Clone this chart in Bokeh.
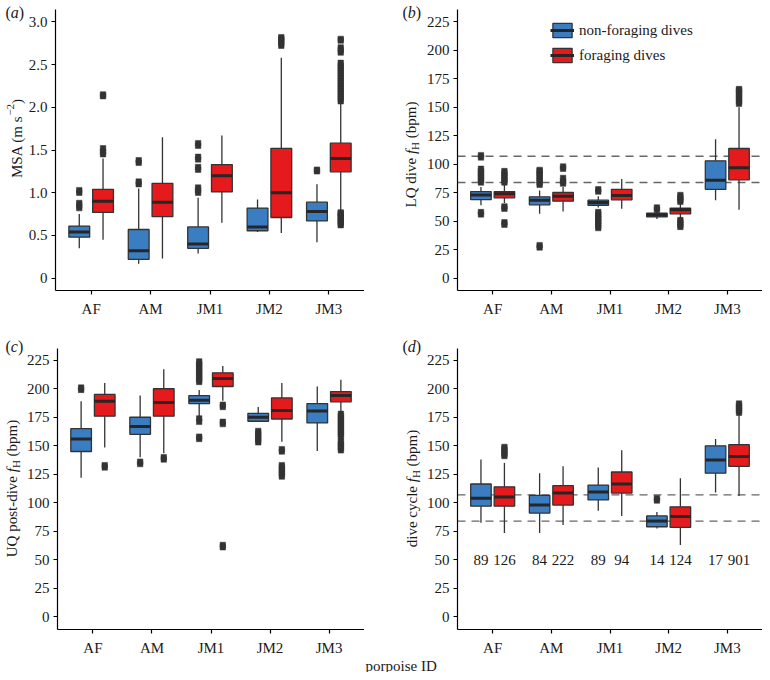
import math
from bokeh.plotting import figure
from bokeh.models import FixedTicker, Legend, LegendItem, Range1d, LinearAxis
from bokeh.layouts import row, column
from bokeh.core.properties import value
from bokeh.embed import file_html
from bokeh.resources import INLINE

# ---------------- data ----------------
categories = ["AF", "AM", "JM1", "JM2", "JM3"]
group_names = ["non-foraging dives", "foraging dives"]

# each row: lower whisker, Q1, median, Q3, upper whisker
msa_nonforaging = [
    [0.35, 0.48, 0.54, 0.61, 0.75],
    [0.17, 0.22, 0.32, 0.57, 1.05],
    [0.29, 0.35, 0.40, 0.60, 0.94],
    [0.54, 0.555, 0.60, 0.82, 0.92],
    [0.42, 0.67, 0.78, 0.89, 1.10],
]
msa_nonforaging_outliers = [
    [0.82, 0.85, 0.88, 1.00, 1.03],
    [1.10, 1.13, 1.35, 1.38],
    [1.00, 1.03, 1.06, 1.27, 1.30, 1.39, 1.42, 1.55, 1.58],
    [],
    [1.25, 1.27],
]
msa_foraging = [
    [0.45, 0.77, 0.90, 1.04, 1.40],
    [0.23, 0.72, 0.89, 1.11, 1.65],
    [0.65, 1.01, 1.20, 1.33, 1.67],
    [0.53, 0.71, 1.00, 1.52, 2.58],
    [0.79, 1.245, 1.40, 1.58, 2.05],
]
msa_foraging_outliers = [
    [1.45, 1.48, 1.52, 2.13, 2.15],
    [],
    [],
    [2.72, 2.75, 2.78, 2.80, 2.82],
    [0.62, 0.64, 0.66, 0.68, 0.70, 0.72, 0.74, 0.76, 0.77,
     2.07, 2.10, 2.13, 2.16, 2.19, 2.22, 2.25, 2.28, 2.31, 2.34, 2.37, 2.40,
     2.43, 2.46, 2.49, 2.52, 2.64, 2.67, 2.70, 2.78, 2.80],
]

lq_nonforaging = [
    [64, 69, 73, 76, 80],
    [56.5, 64.4, 68.5, 71.4, 77],
    [62, 64, 66.4, 68.5, 72],
    [52, 53.8, 55.5, 57, 58],
    [68.5, 78, 86, 103, 122],
]
lq_nonforaging_outliers = [
    [56, 58, 84, 86, 88, 90, 92, 94, 96, 106, 108],
    [27, 29, 82, 84, 86, 88, 90, 92, 94, 95],
    [44, 46, 48, 50, 52, 54, 56, 58, 76, 78],
    [60, 62],
    [],
]
lq_foraging = [
    [66, 70.5, 74, 76, 82],
    [58.5, 67.6, 72, 75.2, 80],
    [61, 68.8, 72.5, 78, 87],
    [52, 56.5, 60, 61.4, 66],
    [60, 86.3, 97, 113.8, 150],
]
lq_foraging_outliers = [
    [47, 49, 61, 63, 84, 86, 88, 90, 92, 94],
    [83, 85, 88, 96, 98],
    [],
    [45, 47, 49, 51, 67, 69, 71, 73],
    [153, 155, 157, 159, 161, 163, 165, 166],
]

uq_nonforaging = [
    [122, 145, 156, 165, 189],
    [140, 160, 167, 175, 194],
    [176, 187, 190, 194, 199],
    [171, 171.5, 175, 178.5, 184],
    [145.5, 170, 180.5, 187, 202],
]
uq_nonforaging_outliers = [
    [199, 201],
    [134, 136],
    [156, 158, 171, 174, 206, 208, 210, 212, 214, 216, 218, 220, 222, 224],
    [153, 155, 157, 159, 161, 163],
    [],
]
uq_foraging = [
    [148.5, 176, 189, 195, 205],
    [143.5, 176, 188, 200, 217],
    [189.5, 202, 209, 214, 220],
    [153.5, 173.5, 181, 192, 205],
    [179, 188.5, 194, 197.5, 208],
]
uq_foraging_outliers = [
    [131, 133],
    [138, 140],
    [61, 63, 169, 171, 184, 186],
    [123, 125, 127, 129, 131, 133, 145, 147],
    [146, 148, 150, 152, 154, 158, 160, 162, 164, 166, 168, 170, 172, 174, 176, 178],
]

cycle_nonforaging = [
    [82.5, 97, 104, 116.5, 138],
    [73.5, 91, 98, 106.5, 126],
    [93, 102.5, 109.5, 115.5, 131],
    [77.5, 79, 84, 88.5, 92],
    [109, 126, 137.5, 150, 156],
]
cycle_nonforaging_outliers = [[], [], [], [102, 104], []]
cycle_foraging = [
    [73.5, 97, 105, 114, 135],
    [80.5, 98, 108.5, 115, 132],
    [88.5, 108.5, 116.5, 127, 146],
    [63, 78.5, 88, 96.5, 121.5],
    [106, 132, 140.5, 151, 177],
]
cycle_foraging_outliers = [[141, 143, 145, 147, 149], [], [], [], [179, 181, 183, 185, 187]]

cycle_n_nonforaging = [89, 84, 89, 14, 17]
cycle_n_foraging = [126, 222, 94, 124, 901]
n_label_level = 50

reference_fh = [107, 84]

msa_ticks = [0, 0.5, 1.0, 1.5, 2.0, 2.5, 3.0]
msa_tick_labels = ["0", "0.5", "1.0", "1.5", "2.0", "2.5", "3.0"]
fh_ticks = [0, 25, 50, 75, 100, 125, 150, 175, 200, 225]
fh_tick_labels = ["0", "25", "50", "75", "100", "125", "150", "175", "200", "225"]

# ---------------- style ----------------
BLUE = "#3A7DC1"
RED = "#E41A1C"
DARK = "#333333"
TXT = "#1a1a1a"
FONT = "Liberation Serif"
OFFSET = 0.2
BOX_W = 0.35

TIMES = {' ': 250, '(': 333, ')': 333, '-': 333, '.': 250, 'A': 722, 'D': 722, 'H': 722,
         'I': 333, 'J': 389, 'L': 611, 'M': 889, 'Q': 722, 'S': 556, 'U': 722, 'a': 444,
         'b': 500, 'c': 444, 'd': 500, 'e': 444, 'f': 333, 'g': 500, 'i': 278, 'l': 278,
         'm': 778, 'n': 500, 'o': 500, 'p': 500, 'r': 333, 's': 389, 't': 278, 'v': 500,
         'y': 500, '\u2212': 564}
TIMES_IT = {'f': 278, 'a': 500, 'b': 500, 'c': 444, 'd': 500}


def text_width(s, size, italic=False):
    tab = TIMES_IT if italic else TIMES
    return sum(tab.get(ch, TIMES.get(ch, 500)) for ch in s) * size / 1000.0


# canvas size, inner panel box (left/top offsets, size), page origin, inner data ranges
GEOM = {
    "a": dict(w=364, h=325, left=55, top=9, fw=309, fh=281, ox=8, oy=8, xr=(0.4, 5.6), yr=(-0.144, 3.144)),
    "b": dict(w=398, h=325, left=93, top=9, fw=305, fh=281, ox=372, oy=8, xr=(0.4, 5.6), yr=(-10.8, 235.8)),
    "c": dict(w=364, h=347, left=57, top=23, fw=307, fh=281, ox=8, oy=333, xr=(0.4, 5.6), yr=(-11.1, 235.3)),
    "d": dict(w=398, h=347, left=93, top=23, fw=305, fh=281, ox=372, oy=333, xr=(0.4, 5.6), yr=(-11.1, 235.3)),
}


def to_data(g, X, Y):
    x0 = g["ox"] + g["left"]
    y1 = g["oy"] + g["top"] + g["fh"]
    xr, yr = g["xr"], g["yr"]
    x = xr[0] + (X - x0) * (xr[1] - xr[0]) / g["fw"]
    y = yr[0] + (y1 - Y) * (yr[1] - yr[0]) / g["fh"]
    return x, y


def make_fig(g, ticks, tick_labels):
    xs0, ys1 = to_data(g, g["ox"], g["oy"])
    xs1, ys0 = to_data(g, g["ox"] + g["w"], g["oy"] + g["h"])
    p = figure(width=g["w"], height=g["h"], x_range=Range1d(xs0, xs1), y_range=Range1d(ys0, ys1),
               min_border=0, min_border_left=0, min_border_right=0, min_border_top=0, min_border_bottom=0,
               x_axis_type=None, y_axis_type=None,
               output_backend="svg", toolbar_location=None)
    p.outline_line_color = None
    p.background_fill_color = "white"
    p.border_fill_color = "white"
    xpos = list(range(1, len(categories) + 1))
    xax = LinearAxis(fixed_location=g["yr"][0], bounds=g["xr"], ticker=FixedTicker(ticks=xpos),
                     major_label_overrides={i: c for i, c in zip(xpos, categories)})
    yax = LinearAxis(fixed_location=g["xr"][0], bounds=g["yr"], ticker=FixedTicker(ticks=ticks),
                     major_label_overrides={t: l for t, l in zip(ticks, tick_labels)})
    for ax in (xax, yax):
        ax.axis_line_color = "black"
        ax.axis_line_width = 1.2
        ax.major_tick_line_color = "black"
        ax.major_tick_line_width = 1.2
        ax.major_tick_out = 4
        ax.major_tick_in = 0
        ax.minor_tick_line_color = None
        ax.major_label_text_font = FONT
        ax.major_label_text_font_size = "15px"
        ax.major_label_text_color = TXT
    xax.major_label_standoff = 6
    yax.major_label_standoff = 4
    p.add_layout(xax, "below")
    p.add_layout(yax, "left")
    return p


def draw_group(p, stats, outliers, offset, color):
    xs = [i + 1 + offset for i in range(len(categories))]
    lw = [s[0] for s in stats]
    q1 = [s[1] for s in stats]
    med = [s[2] for s in stats]
    q3 = [s[3] for s in stats]
    uw = [s[4] for s in stats]
    p.segment(x0=xs, x1=xs, y0=q3, y1=uw, line_color=DARK, line_width=1.3)
    p.segment(x0=xs, x1=xs, y0=q1, y1=lw, line_color=DARK, line_width=1.3)
    ox, oy = [], []
    for x, outs in zip(xs, outliers):
        for v in outs:
            ox.append(x)
            oy.append(v)
    if ox:
        p.scatter(x=ox, y=oy, marker="square", size=5.5, fill_color=DARK, line_color=DARK, line_width=0.5)
    box = p.vbar(x=xs, width=BOX_W, bottom=q1, top=q3, fill_color=color, line_color=DARK, line_width=1.3)
    medr = p.segment(x0=[x - BOX_W / 2 for x in xs], x1=[x + BOX_W / 2 for x in xs], y0=med, y1=med,
                     line_color="#262626", line_width=3)
    return box, medr, xs


def add_text(p, g, X, Y, text, size=15, italic=False, angle=0.0, align="left", baseline="alphabetic"):
    x, y = to_data(g, X, Y)
    p.text(x=[x], y=[y], text=[text], angle=angle, text_align=align, text_baseline=baseline,
           text_font=value(FONT), text_font_size=f"{size}px",
           text_font_style="italic" if italic else "normal", text_color=TXT)


def add_ytitle(p, g, X, Yc, pieces):
    total = sum(text_width(t, s, it) for t, s, it, sh in pieces)
    Y = Yc + total / 2
    for t, s, it, sh in pieces:
        lead = len(t) - len(t.lstrip(' '))
        txt = t.strip()
        if txt:
            add_text(p, g, X - sh, Y - lead * 250 * s / 1000.0, txt, size=s, italic=it, angle=math.pi / 2)
        Y -= text_width(t, s, it)


def add_tag(p, g, X, Y, letter):
    for t, it in (("(", False), (letter, True), (")", False)):
        add_text(p, g, X, Y, t, size=16, italic=it)
        X += text_width(t, 16, it)


def add_reference_lines(p, g):
    n = len(reference_fh)
    p.segment(x0=[g["xr"][0]] * n, x1=[g["xr"][1]] * n, y0=reference_fh, y1=reference_fh,
              line_color="#666666", line_width=1.3, line_dash="8 6")


# ---------------- panels ----------------
ga, gb, gc, gd = GEOM["a"], GEOM["b"], GEOM["c"], GEOM["d"]

pa = make_fig(ga, msa_ticks, msa_tick_labels)
draw_group(pa, msa_nonforaging, msa_nonforaging_outliers, -OFFSET, BLUE)
draw_group(pa, msa_foraging, msa_foraging_outliers, OFFSET, RED)
add_ytitle(pa, ga, 24, 146, [("MSA (m s", 15, False, 0), ("\u22122", 11, False, 6), (")", 15, False, 0)])
add_tag(pa, ga, 13, 19.5, "a")

pb = make_fig(gb, fh_ticks, fh_tick_labels)
add_reference_lines(pb, gb)
box_nf, med_nf, _ = draw_group(pb, lq_nonforaging, lq_nonforaging_outliers, -OFFSET, BLUE)
box_f, med_f, _ = draw_group(pb, lq_foraging, lq_foraging_outliers, OFFSET, RED)
add_ytitle(pb, gb, 418, 162, [("LQ dive ", 15, False, 0), ("f", 15, True, 0), ("H", 11, False, -4),
                              (" (bpm)", 15, False, 0)])
add_tag(pb, gb, 410, 19.5, "b")
legend = Legend(items=[LegendItem(label=group_names[0], renderers=[box_nf, med_nf]),
                       LegendItem(label=group_names[1], renderers=[box_f, med_f])],
                location=(186, 261), orientation="vertical", glyph_width=24, glyph_height=18,
                label_height=18, label_standoff=5, spacing=7, padding=0, margin=0,
                border_line_color=None, background_fill_alpha=0,
                label_text_font=FONT, label_text_font_size="15px", label_text_color=TXT)
pb.add_layout(legend)

pc = make_fig(gc, fh_ticks, fh_tick_labels)
draw_group(pc, uq_nonforaging, uq_nonforaging_outliers, -OFFSET, BLUE)
draw_group(pc, uq_foraging, uq_foraging_outliers, OFFSET, RED)
add_ytitle(pc, gc, 19, 496, [("UQ post-dive ", 15, False, 0), ("f", 15, True, 0), ("H", 11, False, -4),
                             (" (bpm)", 15, False, 0)])
add_tag(pc, gc, 13, 353.5, "c")

pd = make_fig(gd, fh_ticks, fh_tick_labels)
add_reference_lines(pd, gd)
_, _, xs_nf = draw_group(pd, cycle_nonforaging, cycle_nonforaging_outliers, -OFFSET, BLUE)
_, _, xs_f = draw_group(pd, cycle_foraging, cycle_foraging_outliers, OFFSET, RED)
pd.text(x=xs_nf + xs_f, y=[n_label_level] * (len(xs_nf) + len(xs_f)),
        text=[str(n) for n in cycle_n_nonforaging + cycle_n_foraging],
        text_align="center", text_baseline="middle", text_font=value(FONT),
        text_font_size="15px", text_color=TXT)
add_ytitle(pd, gd, 419, 496, [("dive cycle ", 15, False, 0), ("f", 15, True, 0), ("H", 11, False, -4),
                              (" (bpm)", 15, False, 0)])
add_tag(pd, gd, 410, 353.5, "d")
add_text(pd, gd, 373, 673, "porpoise ID", size=15)

layout = column(row(pa, pb), row(pc, pd))
open("out.html", "w").write(file_html(layout, INLINE))
